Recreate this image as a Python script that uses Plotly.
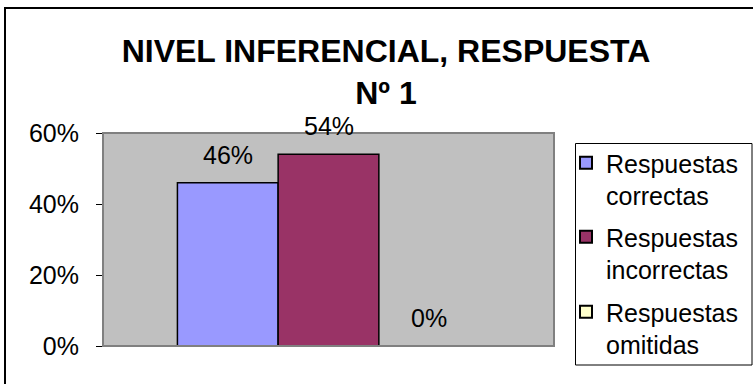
import plotly.graph_objects as go

categories = ["Nivel inferencial"]
series_names = ["Respuestas<br>correctas", "Respuestas<br>incorrectas", "Respuestas<br>omitidas"]
series_values = [0.46, 0.54, 0.00]
series_labels = ["46%", "54%", "0%"]
series_colors = ["#9999FF", "#993366", "#FFFFCC"]
tick_vals = [0, 0.2, 0.4, 0.6]
tick_text = ["0%", "20%", "40%", "60%"]

W, H = 753, 384
ML, MR, MT, MB = 103, 199, 133, 38
BARGAP = 0.33
plot_w = W - ML - MR
plot_h = H - MT - MB
bar_px = plot_w * (1 - BARGAP) / len(series_values)

FONT = "Liberation Sans, Arial, sans-serif"
FS = 25
LFS = 25
legend_ids = ["legend", "legend2", "legend3"]
legend_tops = [140, 214, 289]

fig = go.Figure()
for i, (name, val, col) in enumerate(zip(series_names, series_values, series_colors)):
    fig.add_trace(go.Bar(
        x=categories, y=[val], name=name, legend=legend_ids[i],
        marker=dict(color=col, line=dict(color="#000000", width=1.5)),
    ))

n = len(series_values)
for i, (val, lab) in enumerate(zip(series_values, series_labels)):
    fig.add_annotation(
        x=categories[0], y=val, text=lab, showarrow=False,
        xshift=(i - (n - 1) / 2) * bar_px, yshift=28, yanchor="middle",
        font=dict(family=FONT, size=FS, color="#000000"),
    )

def px_to_paper_x(px):
    return (px - ML) / plot_w

def px_to_paper_y(py):
    return (H - MB - py) / plot_h

# plot area frame
fig.add_shape(type="rect", xref="paper", yref="paper", x0=0, x1=1, y0=0, y1=1,
              line=dict(color="#808080", width=2), layer="above")
# legend box
fig.add_shape(type="rect", xref="paper", yref="paper",
              x0=px_to_paper_x(575.5), x1=px_to_paper_x(752),
              y0=px_to_paper_y(365), y1=px_to_paper_y(143.5),
              line=dict(color="#000000", width=1), layer="above")
# outer chart border
fig.add_shape(type="rect", xref="paper", yref="paper",
              x0=px_to_paper_x(5), x1=px_to_paper_x(770),
              y0=px_to_paper_y(400), y1=px_to_paper_y(8),
              line=dict(color="#000000", width=2), layer="above")

legend_common = dict(
    xref="container", yref="container", x=566 / W, xanchor="left", yanchor="top",
    borderwidth=0, bgcolor="rgba(0,0,0,0)", valign="top",
    font=dict(family=FONT, size=LFS, color="#000000"),
    itemsizing="constant",
)

fig.update_layout(
    width=W, height=H,
    margin=dict(l=ML, r=MR, t=MT, b=MB, pad=0, autoexpand=False),
    paper_bgcolor="#FFFFFF", plot_bgcolor="#C0C0C0",
    barmode="group", bargap=BARGAP, bargroupgap=0,
    font=dict(family=FONT, size=FS, color="#000000"),
    title=dict(
        text="<b>NIVEL INFERENCIAL, RESPUESTA<br>Nº 1</b>",
        font=dict(family=FONT, size=32, color="#000000"),
        x=386 / W, xanchor="center", xref="container",
        y=1 - 62 / H, yanchor="top", yref="container",
    ),
    showlegend=True,
    legend=dict(legend_common, y=1 - legend_tops[0] / H),
    legend2=dict(legend_common, y=1 - legend_tops[1] / H),
    legend3=dict(legend_common, y=1 - legend_tops[2] / H),
    xaxis=dict(range=[-0.5, 0.5], showticklabels=False, ticks="", showgrid=False,
               zeroline=False, showline=False),
    yaxis=dict(range=[0, 0.6], tickvals=tick_vals, ticktext=tick_text,
               ticks="outside", ticklen=6, tickcolor="#000000", tickwidth=1,
               showgrid=False, zeroline=False, showline=False,
               ticklabelstandoff=12),
)

fig.write_html("out.html")
